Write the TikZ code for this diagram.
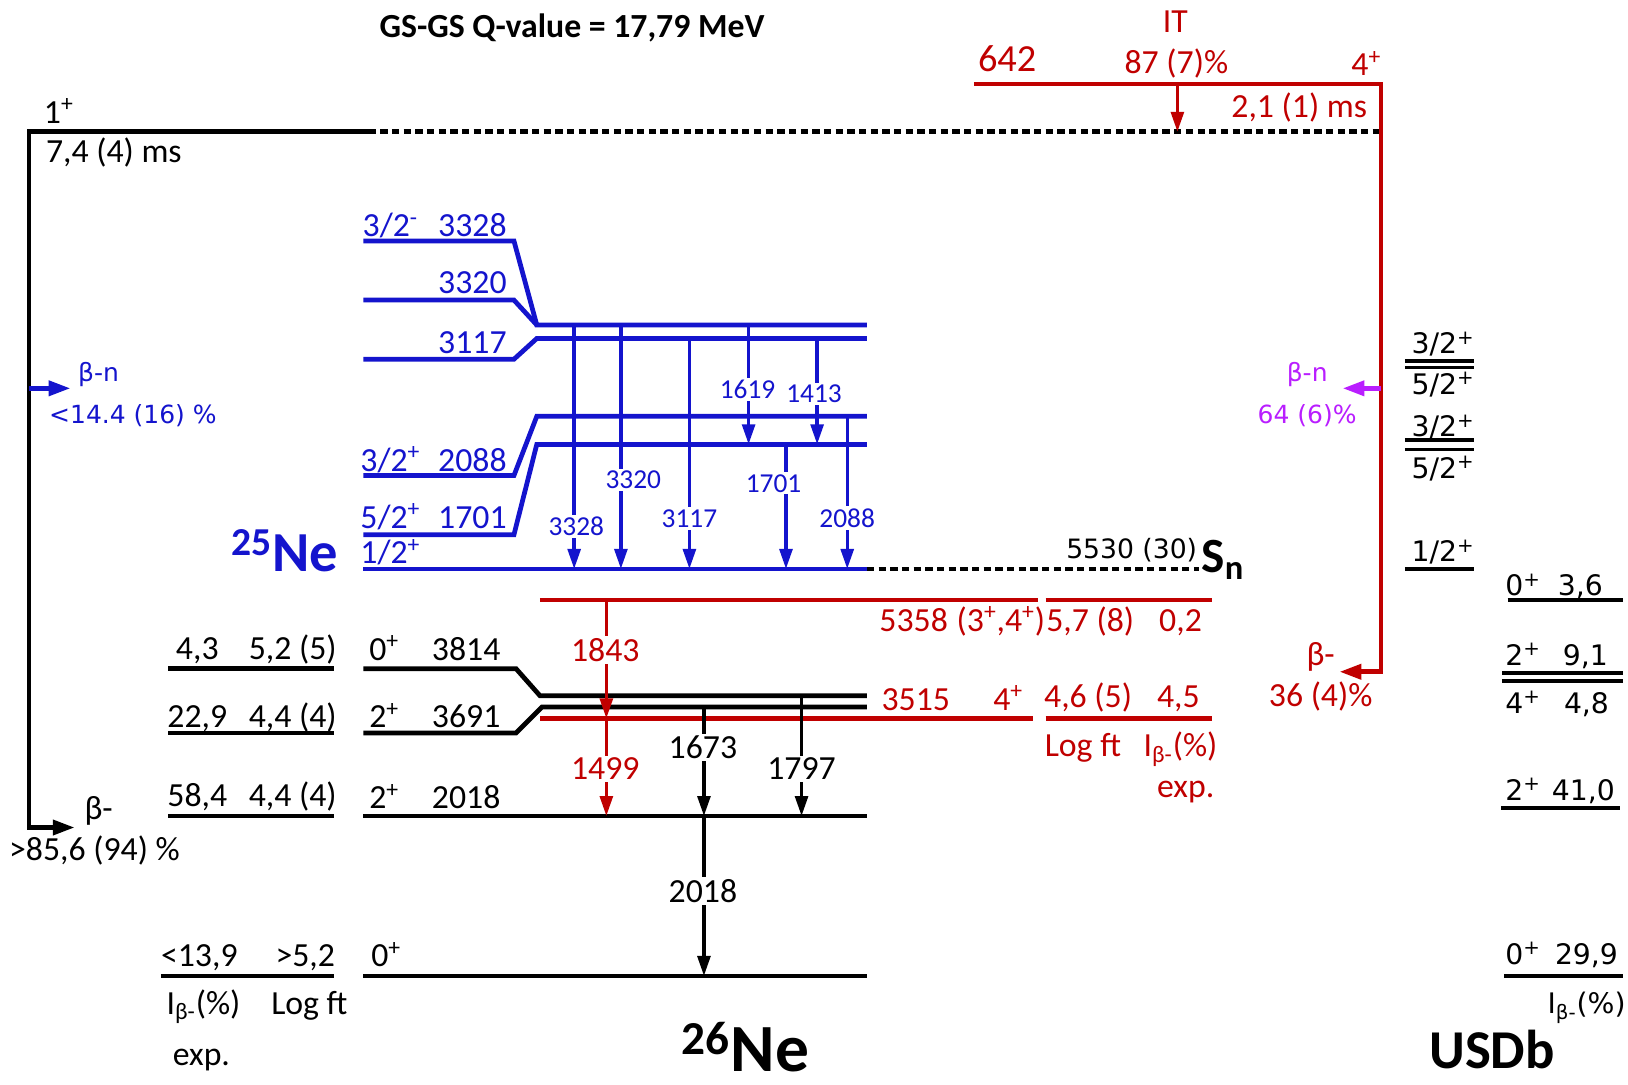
\documentclass[tikz,border=0pt]{standalone}
\usepackage{fontspec}
\setmainfont{Carlito}
\newfontfamily\dvsans{DejaVu Sans}
\usetikzlibrary{arrows.meta}

\definecolor{nblue}{RGB}{20,20,205}
\definecolor{nred}{RGB}{192,0,0}
\definecolor{npurple}{RGB}{185,30,255}

\newcommand\fmain{\fontsize{18.5}{22}\selectfont}
\newcommand\fgam{\fontsize{15}{18}\selectfont}
\newcommand\fdv{\dvsans\fontsize{13.7}{16}\selectfont}
\newcommand\fusd{\dvsans\fontsize{15.5}{18}\selectfont}

\begin{document}
\begin{tikzpicture}[
    x=0.02cm, y=-0.02cm,
    lvl/.style={line width=2.6pt},
    shlvl/.style={line width=2pt},
    dashlvl/.style={line width=2.6pt, dash pattern=on 4pt off 2.4pt},
    gam/.style={line width=1.9pt, -{Triangle[length=11pt, width=7pt]}},
    lbl/.style={inner sep=0pt, anchor=mid, font=\fmain, yshift=-3.8pt},
    glbl/.style={lbl, fill=white, inner sep=1.2pt},
    usd/.style={lbl, font=\fusd}
]
\useasboundingbox (0,0) rectangle (1568,1045);

% Q-value
\node[lbl, font=\fmain\bfseries] (qval) at (551,25) {GS-GS Q-value = 17,79 MeV};

% 26F ground state and its decays
\draw[lvl, -{Triangle[length=12pt, width=8pt]}] (355,127) -- (28,127) -- (28,797) -- (72,797);
\draw[dashlvl] (355,127) -- (1330,127);
\draw[lvl, nblue, -{Triangle[length=12pt, width=8pt]}] (28,374) -- (68,374);
\node[lbl, anchor=mid west] (spin0) at (42,108) {1\textsuperscript{+}};
\node[lbl, anchor=mid west] (half0) at (44,146) {7,4 (4) ms};
\node[lbl, nblue, font=\fdv, anchor=mid west] (bnl) at (75,357) {β-n};
\node[lbl, nblue, font=\fdv, anchor=mid west] (bnlint) at (47,397) {<14.4 (16) \%};
\node[lbl] (bml) at (95,778) {β-};
\node[lbl] (bmlint) at (91,818) {>85,6 (94) \%};

% isomer 642
\draw[lvl, nred, -{Triangle[length=12pt, width=8pt]}] (938,81) -- (1330,81) -- (1330,647) -- (1290,647);
\draw[gam, nred] (1134,81) -- (1134,127);
\draw[lvl, npurple, -{Triangle[length=12pt, width=8pt]}] (1330,374) -- (1293,374);
\node[lbl, nred, font=\fontsize{21}{24}\selectfont] (e642) at (970,58) {642};
\node[lbl, nred] (itlab) at (1132,20) {IT};
\node[lbl, nred] (itint) at (1133,60) {87 (7)\%};
\node[lbl, nred] (spin642) at (1316,62) {4\textsuperscript{+}};
\node[lbl, nred, anchor=mid east] (half642) at (1317,102) {2,1 (1) ms};
\node[lbl, npurple, font=\fdv] (bnr) at (1259,357) {β-n};
\node[lbl, npurple, font=\fdv] (bnrint) at (1259,397) {64 (6)\%};
\node[lbl, nred] (bmr) at (1272,630) {β-};
\node[lbl, nred] (bmrint) at (1272,670) {36 (4)\%};

% 25Ne levels
\draw[lvl, nblue] (350,232) -- (495,232) -- (517,313) -- (835,313);
\draw[lvl, nblue] (350,289) -- (495,289) -- (517,313);
\draw[lvl, nblue] (350,346) -- (495,346) -- (517,326) -- (835,326);
\draw[lvl, nblue] (350,458) -- (495,458) -- (517,401) -- (835,401);
\draw[lvl, nblue] (350,515) -- (495,515) -- (517,428) -- (835,428);
\draw[lvl, nblue] (350,548) -- (835,548);
\draw[dashlvl] (835,548) -- (1155,548);

\foreach \x/\a/\b in {553/313/548, 598/313/548, 664/326/548, 721/313/428,
                      787/326/428, 757/428/548, 816/401/548}
  \draw[gam, nblue] (\x,\a) -- (\x,\b);

\node[lbl, nblue] (j3328) at (376,217) {3/2\textsuperscript{-}};
\node[lbl, nblue] (e3328) at (455,217) {3328};
\node[lbl, nblue] (e3320) at (455,272) {3320};
\node[lbl, nblue] (e3117) at (455,330) {3117};
\node[lbl, nblue] (j2088) at (376,443) {3/2\textsuperscript{+}};
\node[lbl, nblue] (e2088) at (455,443) {2088};
\node[lbl, nblue] (j1701) at (376,498) {5/2\textsuperscript{+}};
\node[lbl, nblue] (e1701) at (455,498) {1701};
\node[lbl, nblue] (j0) at (376,532) {1/2\textsuperscript{+}};
\node[lbl, nblue, font=\fontsize{31}{34}\selectfont\bfseries] (ne25) at (274,540) {\textsuperscript{25}Ne};

\node[glbl, text=nblue, font=\fgam] (g3328) at (555,505) {3328};
\node[glbl, text=nblue, font=\fgam] (g3320) at (610,460) {3320};
\node[glbl, text=nblue, font=\fgam] (g3117) at (664,497) {3117};
\node[glbl, text=nblue, font=\fgam] (g1619) at (720,373) {1619};
\node[glbl, text=nblue, font=\fgam] (g1413) at (784,377) {1413};
\node[glbl, text=nblue, font=\fgam] (g1701) at (745,463) {1701};
\node[glbl, text=nblue, font=\fgam] (g2088) at (816,497) {2088};

\node[lbl, font=\fontsize{14.6}{17}\dvsans\selectfont] (sn) at (1090,527) {5530 (30)};
\node[lbl, anchor=mid west, font=\fontsize{27}{30}\selectfont\bfseries] (snlab) at (1157,541) {S\textsubscript{n}};

% 26Ne levels
\draw[lvl] (162,644) -- (322,644);
\draw[lvl] (162,706) -- (322,706);
\draw[lvl] (162,786) -- (322,786);
\draw[lvl] (155,940) -- (322,940);
\draw[lvl] (350,644) -- (497,644) -- (520,670) -- (835,670);
\draw[lvl] (350,706) -- (497,706) -- (522,681) -- (835,681);
\draw[lvl] (350,786) -- (835,786);
\draw[lvl] (350,940) -- (835,940);
\draw[lvl, nred] (520,578) -- (1000,578);
\draw[lvl, nred] (1007,578) -- (1167,578);
\draw[lvl, nred] (520,692) -- (995,692);
\draw[lvl, nred] (1007,692) -- (1167,692);

\draw[gam] (772,670) -- (772,786);
\draw[gam] (678,681) -- (678,786);
\draw[gam] (678,786) -- (678,940);
\draw[gam, nred] (584,578) -- (584,692);
\draw[gam, nred] (584,692) -- (584,786);

\node[lbl] (i3814) at (190,624) {4,3};
\node[lbl] (f3814) at (282,624) {5,2 (5)};
\node[lbl] (j3814) at (370,625) {0\textsuperscript{+}};
\node[lbl] (e3814) at (449,625) {3814};
\node[lbl] (i3691) at (190,690) {22,9};
\node[lbl] (f3691) at (282,690) {4,4 (4)};
\node[lbl] (j3691) at (370,690) {2\textsuperscript{+}};
\node[lbl] (e3691) at (449,690) {3691};
\node[lbl] (i2018) at (190,766) {58,4};
\node[lbl] (f2018) at (282,766) {4,4 (4)};
\node[lbl] (j2018) at (370,768) {2\textsuperscript{+}};
\node[lbl] (e2018) at (449,768) {2018};
\node[lbl] (igs) at (192,920) {<13,9};
\node[lbl] (fgs) at (294,920) {>5,2};
\node[lbl] (jgs) at (372,920) {0\textsuperscript{+}};
\node[lbl] (ihead) at (196,966) {I\textsubscript{β-}(\%)};
\node[lbl] (fhead) at (298,966) {Log ft};
\node[lbl] (xhead) at (194,1015) {exp.};
\node[lbl, font=\fontsize{37}{40}\selectfont\bfseries] (ne26) at (718,1021) {\textsuperscript{26}Ne};

\node[glbl, text=nred] (g1843) at (583,626) {1843};
\node[glbl, text=nred] (g1499) at (583,740) {1499};
\node[glbl] (g1673) at (677,720) {1673};
\node[glbl] (g1797) at (772,740) {1797};
\node[glbl] (g2018) at (677,858) {2018};

\node[lbl, nred] (e5358) at (880,597) {5358};
\node[lbl, nred] (j5358) at (964,597) {(3\textsuperscript{+},4\textsuperscript{+})};
\node[lbl, nred] (f5358) at (1050,597) {5,7 (8)};
\node[lbl, nred] (i5358) at (1137,597) {0,2};
\node[lbl, nred] (e3515) at (882,673) {3515};
\node[lbl, nred] (j3515) at (971,673) {4\textsuperscript{+}};
\node[lbl, nred] (f3515) at (1048,671) {4,6 (5)};
\node[lbl, nred] (i3515) at (1135,671) {4,5};
\node[lbl, nred] (fhr) at (1043,718) {Log ft};
\node[lbl, nred] (ihr) at (1137,718) {I\textsubscript{β-}(\%)};
\node[lbl, nred] (xhr) at (1142,757) {exp.};

% USDb levels
\draw[shlvl] (1353,348) -- (1420,348);
\draw[shlvl] (1353,354) -- (1420,354);
\draw[shlvl] (1353,424) -- (1420,424);
\draw[shlvl] (1353,433) -- (1420,433);
\draw[shlvl] (1353,548) -- (1420,548);
\draw[shlvl] (1452,578) -- (1563,578);
\draw[shlvl] (1447,648) -- (1563,648);
\draw[shlvl] (1447,656) -- (1563,656);
\draw[shlvl] (1446,778) -- (1560,778);
\draw[shlvl] (1449,940) -- (1563,940);

\node[usd] (u1) at (1390,330) {3/2\textsuperscript{+}};
\node[usd] (u2) at (1390,369) {5/2\textsuperscript{+}};
\node[usd] (u3) at (1390,410) {3/2\textsuperscript{+}};
\node[usd] (u4) at (1390,450) {5/2\textsuperscript{+}};
\node[usd] (u5) at (1390,530) {1/2\textsuperscript{+}};
\node[usd] (uj1) at (1467,563) {0\textsuperscript{+}};
\node[usd] (ui1) at (1522,563) {3,6};
\node[usd] (uj2) at (1467,630) {2\textsuperscript{+}};
\node[usd] (ui2) at (1527,630) {9,1};
\node[usd] (uj3) at (1467,676) {4\textsuperscript{+}};
\node[usd] (ui3) at (1528,676) {4,8};
\node[usd] (uj4) at (1467,760) {2\textsuperscript{+}};
\node[usd] (ui4) at (1525,760) {41,0};
\node[usd] (uj5) at (1467,918) {0\textsuperscript{+}};
\node[usd] (ui5) at (1528,918) {29,9};
\node[usd, anchor=mid east] (uhead) at (1566,965) {I\textsubscript{β-}(\%)};
\node[lbl, font=\fontsize{30}{33}\selectfont\bfseries] (usdb) at (1437,1018) {USDb};

\end{tikzpicture}
\end{document}
